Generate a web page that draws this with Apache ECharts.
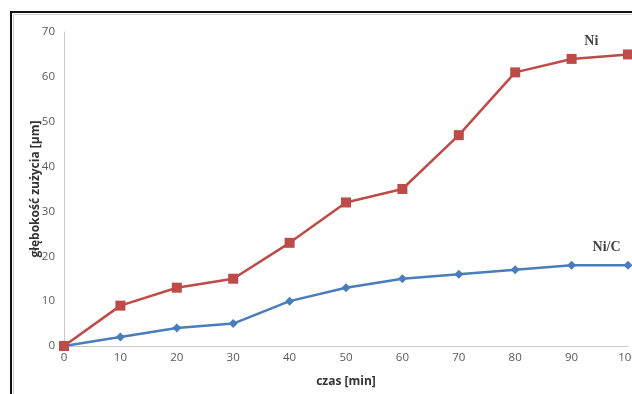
<!DOCTYPE html>
<html><head><meta charset="utf-8">
<script src="https://cdn.jsdelivr.net/npm/echarts@6/dist/echarts.min.js"></script>
<style>html,body{margin:0;padding:0;background:#fff}#c{width:632px;height:394px}</style>
</head><body><div id="c"></div>
<script>
const categories = [0, 10, 20, 30, 40, 50, 60, 70, 80, 90, 100];
const ni = [0, 9, 13, 15, 23, 32, 35, 47, 61, 64, 65];
const niC = [0, 2, 4, 5, 10, 13, 15, 16, 17, 18, 18];
const yTicks = [0, 10, 20, 30, 40, 50, 60, 70];
const seriesLabels = [{text: 'Ni', x: 93.5, y: 67.8}, {text: 'Ni/C', x: 96.2, y: 21.9}];

const chart = echarts.init(document.getElementById('c'));
const axisFont = {color: '#595959', fontSize: 11.5, fontFamily: 'Open Sans'};
chart.setOption({
  animation: false,
  grid: {left: 64, right: 4, top: 32, bottom: 48, outerBoundsMode: 'none', containLabel: false},
  graphic: [
    {type: 'rect', shape: {x: 11, y: 12, width: 700, height: 500},
     style: {fill: 'none', stroke: '#111', lineWidth: 2}, z: 0},
    {type: 'rect', shape: {x: 13.5, y: 14.5, width: 700, height: 500},
     style: {fill: 'none', stroke: '#d0d0d0', lineWidth: 1}, z: 0}
  ],
  xAxis: {
    type: 'value', min: 0, max: 100, interval: 10,
    name: 'czas [min]', nameLocation: 'middle', nameGap: 30, nameMoveOverlap: false,
    nameTextStyle: {color: '#333', fontSize: 12, fontWeight: 'bold', fontFamily: 'Open Sans'},
    axisLine: {lineStyle: {color: '#c8c8c8', width: 1}},
    axisTick: {show: false},
    splitLine: {show: false},
    axisLabel: Object.assign({margin: 6, showMaxLabel: true, hideOverlap: false}, axisFont)
  },
  yAxis: {
    type: 'value', min: 0, max: 70, interval: 10,
    name: 'głębokość zużycia [µm]', nameLocation: 'middle', nameGap: 22, nameMoveOverlap: false,
    nameTextStyle: {color: '#333', fontSize: 12, fontWeight: 'bold', fontFamily: 'Open Sans'},
    axisLine: {show: true, lineStyle: {color: '#c8c8c8', width: 1}},
    axisTick: {show: false},
    splitLine: {show: false},
    axisLabel: Object.assign({margin: 9, formatter: v => yTicks.includes(v) ? String(v) : ''}, axisFont)
  },
  series: [
    {name: 'Ni/C', type: 'line', data: categories.map((x, i) => [x, niC[i]]),
     symbol: 'diamond', symbolSize: 9,
     itemStyle: {color: '#4a7ebb'}, lineStyle: {color: '#4a7ebb', width: 2.5}, z: 2},
    {name: 'Ni', type: 'line', data: categories.map((x, i) => [x, ni[i]]),
     symbol: 'rect', symbolSize: 10,
     itemStyle: {color: '#be4b48'}, lineStyle: {color: '#be4b48', width: 2.5}, z: 3},
    {name: 'labels', type: 'scatter', data: seriesLabels.map(d => ({value: [d.x, d.y], name: d.text})),
     symbolSize: 2, itemStyle: {color: 'rgba(255,255,255,0)'}, silent: true, z: 5,
     label: {show: true, position: 'inside', formatter: p => p.name, color: '#111',
       fontSize: 14, fontWeight: 'bold', fontFamily: 'Liberation Serif'}}
  ]
});
</script></body></html>
